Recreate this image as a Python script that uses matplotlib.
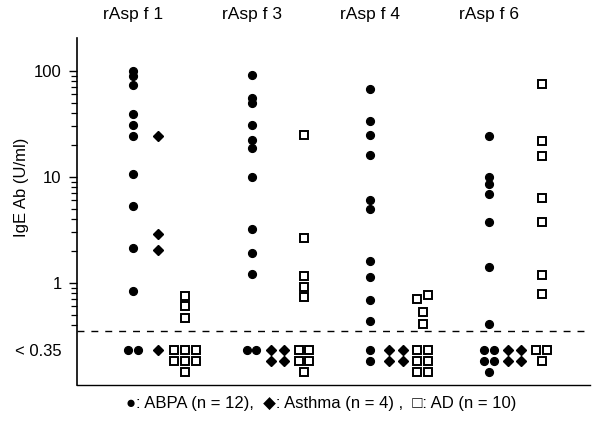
import numpy as np
import matplotlib
matplotlib.use("Agg")
import matplotlib.pyplot as plt
from matplotlib.ticker import FixedLocator, NullFormatter

plt.rcParams["font.family"] = ["Liberation Sans", "DejaVu Sans"]
plt.rcParams["font.size"] = 12

# ---- data ----
groups = ["rAsp f 1", "rAsp f 3", "rAsp f 4", "rAsp f 6"]

abpa_vals = [
    [100, 90, 74, 39, 31, 24.6, 10.6, 5.3, 2.14, 0.84],
    [92, 55, 50, 30.6, 22.5, 18.8, 9.9, 3.25, 1.92, 1.21],
    [67, 33.6, 25, 16.2, 6.0, 5.0, 1.62, 1.15, 0.69, 0.44],
    [24.2, 10.1, 8.6, 6.9, 3.8, 1.4, 0.41],
]
abpa_below = [2, 2, 2, 5]

asthma_vals = [[24.6, 2.87, 2.05], [], [], []]
asthma_below = [1, 4, 4, 4]

ad_vals = [
    [0.75, 0.6, 0.47],
    [25, 2.64, 1.17, 0.92, 0.74],
    [0.70, 0.77, 0.53, 0.41],
    [75, 22, 15.8, 6.4, 3.75, 1.19, 0.78],
]
ad_below = [7, 5, 6, 3]

detection_limit = 0.35
legend_text = "\u25cf: ABPA (n = 12),  \u25c6: Asthma (n = 4) ,  \u25a1: AD (n = 10)"

# ---- layout / style ----
series = [
    # name, values, below counts, x offset, marker, size, edge, face, dx, cols per group, dodge
    ("ABPA", abpa_vals, abpa_below, 0.0, "o", 5.6, 1.0, "black", 0.082, [2, 2, 1, 2], False),
    ("Asthma", asthma_vals, asthma_below, 0.215, "D", 5.6, 1.0, "black", 0.11, [1, 2, 2, 2], False),
    ("AD", ad_vals, ad_below, 0.44, "s", 5.2, 1.4, "white", 0.09, [3, 2, 2, 2], True),
]

BELOW_BASE = 0.233          # where the "< 0.35" row sits on the log axis
ROW_STEP = 10 ** -0.104     # one marker row further down


def below_positions(n, ncols, center, dx):
    xs, ys = [], []
    rows = int(np.ceil(n / ncols))
    for r in range(rows):
        k = min(ncols, n - r * ncols)
        for c in range(k):
            xs.append(center + (c - (k - 1) / 2) * dx)
            ys.append(BELOW_BASE * ROW_STEP ** r)
    return xs, ys


def dodge_positions(vals, center, dx, min_gap=0.06):
    xs = [center] * len(vals)
    logs = np.log10(vals)
    for i in range(len(vals)):
        for j in range(i + 1, len(vals)):
            if abs(logs[i] - logs[j]) < min_gap:
                xs[i] = center - dx / 2
                xs[j] = center + dx / 2
    return xs


fig = plt.figure(figsize=(5.92, 4.36), dpi=100)
ax = fig.add_axes([0.130, 0.117, 0.867, 0.796])

for name, vals, below, xoff, marker, ms, mew, face, dx, cols, dodge in series:
    for g in range(len(groups)):
        cx = g + xoff
        v = vals[g]
        if v:
            xs = dodge_positions(v, cx, dx) if dodge else [cx] * len(v)
            ax.plot(xs, v, linestyle="none", marker=marker, markersize=ms,
                    markerfacecolor=face, markeredgecolor="black",
                    markeredgewidth=mew, clip_on=False)
        if below[g]:
            bx, by = below_positions(below[g], cols[g], cx, dx)
            ax.plot(bx, by, linestyle="none", marker=marker, markersize=ms,
                    markerfacecolor=face, markeredgecolor="black",
                    markeredgewidth=mew, clip_on=False)

ax.axhline(detection_limit, color="black", linewidth=1.0, linestyle=(0, (5, 5)))

ax.set_yscale("log")
ax.set_ylim(0.109, 205)
ax.set_xlim(-0.47, 3.85)

ax.set_yticks([BELOW_BASE, 1, 10, 100])
ax.set_yticklabels(["< 0.35", "1", "10", "100"])
minor = [m * 10.0 ** e for e in (-1, 0, 1) for m in range(2, 10)]
minor = [m for m in minor if m > 0.38]
ax.yaxis.set_minor_locator(FixedLocator(minor))
ax.yaxis.set_minor_formatter(NullFormatter())
ax.tick_params(axis="y", which="major", length=6, width=1.0, pad=5, labelsize=12)
ax.tick_params(axis="y", which="minor", length=4, width=0.9)
ax.yaxis.get_major_ticks()[0].tick1line.set_visible(False)

ax.set_xticks([])
for s in ("top", "right"):
    ax.spines[s].set_visible(False)
ax.spines["left"].set_linewidth(1.2)
ax.spines["bottom"].set_linewidth(1.0)

for g, label in enumerate(groups):
    ax.text(g, 1.045, label, transform=ax.get_xaxis_transform(),
            ha="center", va="bottom", fontsize=12.5)

fig.text(0.037, 0.571, "IgE Ab (U/ml)", rotation=90, ha="center", va="center", fontsize=12)
fig.text(0.542, 0.074, legend_text, ha="center", va="center", fontsize=12)

fig.savefig("out.png", dpi=100)
